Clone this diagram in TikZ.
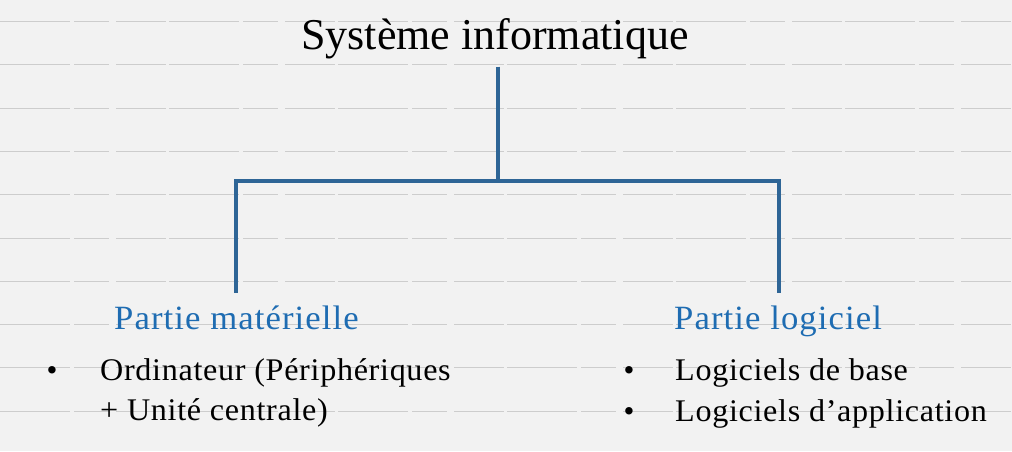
\documentclass[tikz,border=0pt]{standalone}
\usepackage{fontspec}
\setmainfont{Liberation Serif}
\usetikzlibrary{positioning}

\definecolor{paper}{RGB}{242,242,242}
\definecolor{rule}{RGB}{205,205,205}
\definecolor{branchblue}{RGB}{46,101,150}
\definecolor{headblue}{RGB}{30,108,178}

\begin{document}
\begin{tikzpicture}[x=1pt,y=-1pt,
    branch/.style={draw=branchblue,line width=4pt},
    title node/.style={font=\fontsize{44}{50}\selectfont,inner sep=8pt},
    head node/.style={text=headblue,font=\fontsize{34}{40}\selectfont\addfontfeatures{FakeStretch=1.02,LetterSpace=3.2},inner sep=0pt,anchor=base west},
    item node/.style={font=\fontsize{31.5}{40}\selectfont\addfontfeatures{FakeStretch=1.02,LetterSpace=2.2},inner sep=0pt,anchor=base west},
    dot node/.style={font=\fontsize{31}{40}\selectfont,inner sep=0pt,anchor=base}]
    \useasboundingbox (0,0) rectangle (1012,451);
    % lined paper
    \fill[paper] (0,0) rectangle (1012,451);
    \foreach \k in {0,...,9}
      \draw[rule,line width=0.9pt,dash pattern=on 70pt off 4pt on 35pt off 7pt on 50pt off 3pt]
        (0,{21.5+43.3*\k}) -- (1012,{21.5+43.3*\k});
    % headings
    \node[title node,anchor=base] (sys) at (495,49) {Système informatique};
    \node[head node] (mat) at (114,329) {Partie matérielle};
    \node[head node] (log) at (674,329) {Partie logiciel};
    % items
    \node[dot node] (b1) at (52,380) {•};
    \node[item node] (ord1) at (100,380) {Ordinateur (Périphériques};
    \node[item node] (ord2) at (100,420) {+ Unité centrale)};
    \node[dot node] (b2) at (629,380) {•};
    \node[item node] (lbase) at (675,380) {Logiciels de base};
    \node[dot node] (b3) at (629,421) {•};
    \node[item node] (lapp) at (675,421) {Logiciels d’application};
    % tree
    \coordinate (split) at (498,181);
    \coordinate (matEnd) at (236,293);
    \coordinate (logEnd) at (779,293);
    \draw[branch] (sys.south -| split) -- (split);
    \draw[branch] (split) -| (matEnd);
    \draw[branch] (split) -| (logEnd);
\end{tikzpicture}
\end{document}
